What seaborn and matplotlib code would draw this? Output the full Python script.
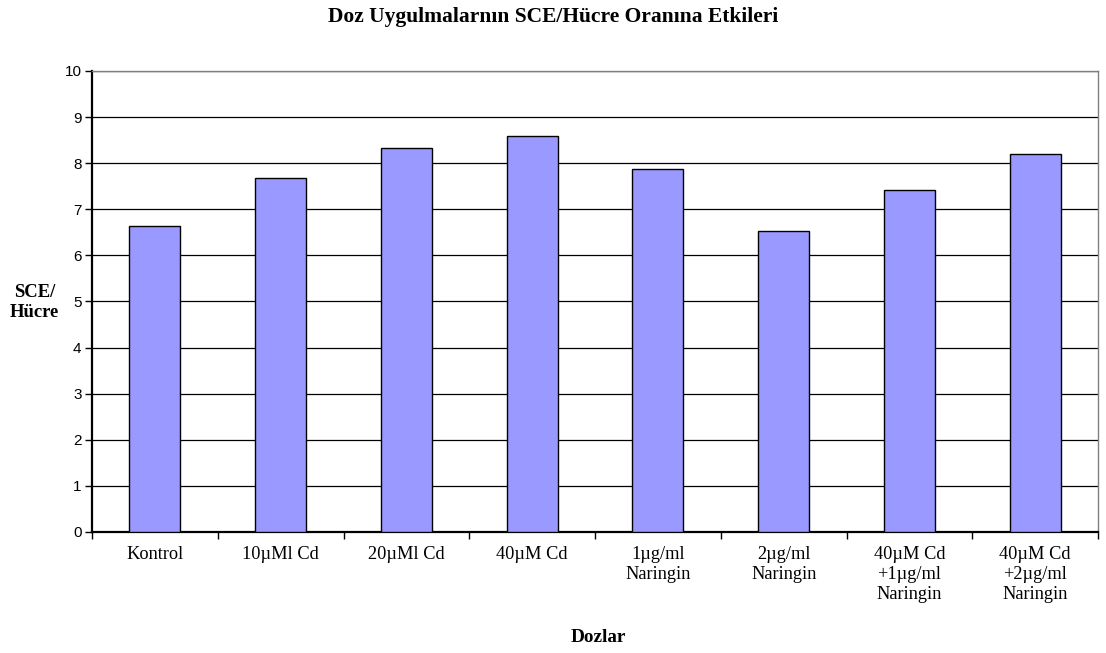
import matplotlib
matplotlib.use("Agg")
import matplotlib.pyplot as plt
import seaborn as sns
import pandas as pd

categories = [
    "Kontrol",
    "10µMl Cd",
    "20µMl Cd",
    "40µM Cd",
    "1µg/ml\nNaringin",
    "2µg/ml\nNaringin",
    "40µM Cd\n+1µg/ml\nNaringin",
    "40µM Cd\n+2µg/ml\nNaringin",
]
sce_per_cell = [6.63, 7.67, 8.33, 8.59, 7.87, 6.52, 7.42, 8.21]
y_ticks = list(range(0, 11))

sns.set_style("white")
plt.rcParams["font.family"] = ["Liberation Serif", "DejaVu Serif"]
plt.rcParams["text.color"] = "black"
plt.rcParams["xtick.color"] = "black"
plt.rcParams["ytick.color"] = "black"
plt.rcParams["axes.labelcolor"] = "black"

df = pd.DataFrame({"doz": categories, "sce": sce_per_cell})

fig = plt.figure(figsize=(11.06, 6.53), dpi=100)
ax = fig.add_axes([0.0832, 0.1853, 0.9096, 0.706])

sns.barplot(data=df, x="doz", y="sce", color="#9999FF", saturation=1,
            edgecolor="black", linewidth=1.0, width=0.405, ax=ax, zorder=3)

ax.set_xlim(-0.5, len(categories) - 0.5)
ax.set_ylim(0, 10)
ax.set_yticks(y_ticks)
ax.yaxis.grid(True, color="black", linewidth=0.9)
ax.set_axisbelow(True)

for lbl in ax.get_yticklabels():
    lbl.set_family(["Liberation Sans", "DejaVu Sans"])
    lbl.set_fontsize(11)
ax.tick_params(axis="y", direction="out", length=5, width=1, color="black",
               labelcolor="black", left=True, pad=2.5)

# category labels centred on the bars, tick marks on the boundaries
ax.set_xticks(range(len(categories)))
ax.set_xticklabels(categories, fontsize=13.2, linespacing=1.25)
ax.tick_params(axis="x", which="major", length=0, pad=10, labelcolor="black")
ax.set_xticks([i - 0.5 for i in range(len(categories) + 1)], minor=True)
ax.tick_params(axis="x", which="minor", direction="out", length=5, width=1,
               color="black", bottom=True)

for side in ["left", "bottom"]:
    ax.spines[side].set_color("black")
    ax.spines[side].set_linewidth(1.6)
for side in ["top", "right"]:
    ax.spines[side].set_visible(True)
    ax.spines[side].set_color("#808080")
    ax.spines[side].set_linewidth(1.0)

ax.set_xlabel("")
ax.set_ylabel("")

fig.text(0.5, 0.974, "Doz Uygulmalarnın SCE/Hücre Oranına Etkileri",
         ha="center", va="center", fontsize=15.5, fontweight="bold",
         color="black")
fig.text(0.031, 0.537, "SCE/\nHücre", ha="center", va="center",
         fontsize=13.4, fontweight="bold", linespacing=1.2, color="black")
fig.text(0.5407, 0.023, "Dozlar", ha="center", va="center",
         fontsize=13.8, fontweight="bold", color="black")

fig.savefig("out.png", dpi=100, facecolor="white")
